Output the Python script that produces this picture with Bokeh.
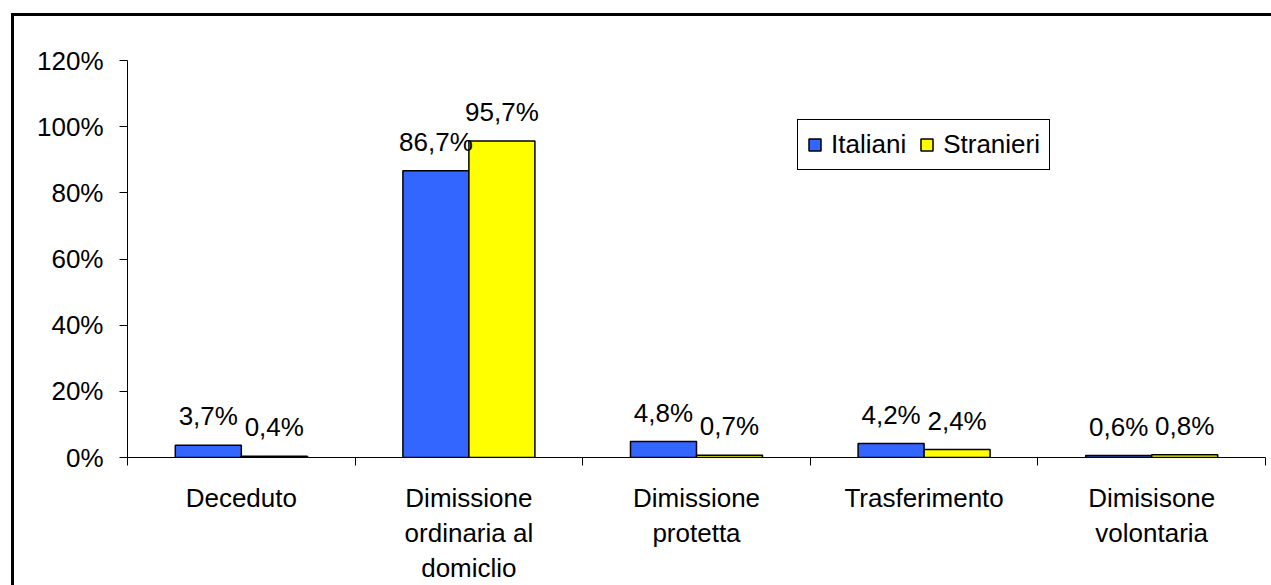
import numpy as np
from bokeh.plotting import figure
from bokeh.models import (ColumnDataSource, FixedTicker, Range1d, PrintfTickFormatter, LabelSet)
from bokeh.core.properties import value
from bokeh.embed import file_html
from bokeh.resources import INLINE

categories = ["Deceduto", "Dimissione\nordinaria al\ndomiclio", "Dimissione\nprotetta",
              "Trasferimento", "Dimisisone\nvolontaria"]
italiani = [3.7, 86.7, 4.8, 4.2, 0.6]
stranieri = [0.4, 95.7, 0.7, 2.4, 0.8]
y_ticks = [0, 20, 40, 60, 80, 100, 120]
series_names = ["Italiani", "Stranieri"]
colors = ["#3366FF", "#FFFF00"]

FONT = "Liberation Sans"
FS = "26px"
BW = 0.29

centers = np.arange(len(categories)) + 0.5
fmt = lambda v: f"{v:.1f}%".replace(".", ",")
src = ColumnDataSource(dict(
    x_it=centers - BW / 2, x_st=centers + BW / 2,
    italiani=italiani, stranieri=stranieri,
    lab_it=[fmt(v) for v in italiani], lab_st=[fmt(v) for v in stranieri],
))

p = figure(width=1271, height=585, output_backend="svg", toolbar_location=None,
           x_range=Range1d(0, len(categories)), y_range=Range1d(0, 120),
           min_border_left=127, min_border_right=6, min_border_top=60, min_border_bottom=128)
p.outline_line_color = None
p.xgrid.visible = False
p.ygrid.visible = False
p.background_fill_color = "white"
p.border_fill_alpha = 0
# outer chart box (left and top edges visible; the rest lies outside the window)
p.styles = {
    "background": ("linear-gradient(#000,#000) 11px 13px / 3px 100% no-repeat, "
                   "linear-gradient(#000,#000) 11px 13px / 100% 3px no-repeat, #fff"),
}

p.vbar(x="x_it", top="italiani", width=BW, source=src, fill_color=colors[0],
       line_color="black", line_width=1.5, legend_label=series_names[0])
p.vbar(x="x_st", top="stranieri", width=BW, source=src, fill_color=colors[1],
       line_color="black", line_width=1.5, legend_label=series_names[1])

for xcol, ycol, tcol in [("x_it", "italiani", "lab_it"), ("x_st", "stranieri", "lab_st")]:
    p.add_layout(LabelSet(x=xcol, y=ycol, text=tcol, source=src, text_align="center",
                          text_baseline="alphabetic", y_offset=20, text_font=value(FONT),
                          text_font_size=FS, text_color="black"))

# y axis
ya = p.yaxis[0]
ya.ticker = FixedTicker(ticks=y_ticks)
ya.formatter = PrintfTickFormatter(format="%d%%")
ya.major_tick_out = 8
ya.major_tick_in = 0
ya.minor_tick_out = 0
ya.minor_tick_in = 0
ya.major_label_standoff = 16
ya.major_label_text_font = FONT
ya.major_label_text_font_size = FS
ya.major_label_text_color = "black"
ya.axis_line_color = "black"
ya.major_tick_line_color = "black"

# x axis
xa = p.xaxis[0]
xa.ticker = FixedTicker(ticks=list(centers), minor_ticks=list(range(len(categories) + 1)))
xa.major_label_overrides = {float(c): lab for c, lab in zip(centers, categories)}
xa.major_tick_out = 0
xa.major_tick_in = 0
xa.minor_tick_out = 8
xa.minor_tick_in = 0
xa.minor_tick_line_color = "black"
xa.major_label_standoff = 17
xa.major_label_text_font = FONT
xa.major_label_text_font_size = FS
xa.major_label_text_color = "black"
xa.major_label_text_line_height = 1.17
xa.axis_line_color = "black"

# legend
lg = p.legend[0]
lg.location = (670, 287)
lg.orientation = "horizontal"
lg.border_line_color = "black"
lg.border_line_alpha = 1
lg.border_line_width = 1.5
lg.padding = 9
lg.spacing = 13
lg.label_standoff = 9
lg.glyph_width = 15
lg.glyph_height = 15
lg.label_text_font = FONT
lg.label_text_font_size = FS
lg.label_text_color = "black"
lg.label_height = 22
lg.margin = 0
lg.background_fill_alpha = 1

open("out.html", "w").write(file_html(p, INLINE))
